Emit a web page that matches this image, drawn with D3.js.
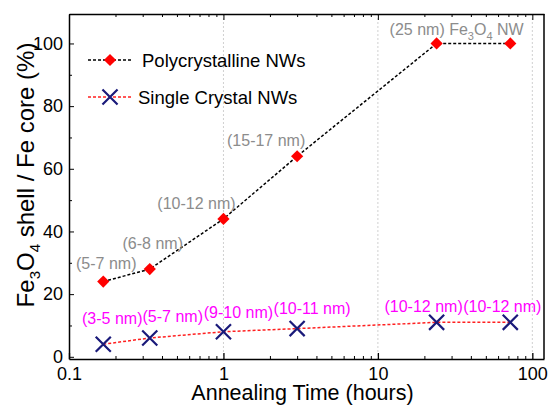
<!DOCTYPE html>
<html>
<head>
    <meta charset="utf-8" />
    <title>Fe3O4 shell / Fe core</title>
    <script src="https://cdn.jsdelivr.net/npm/d3@7"></script>
    <style>
        body { margin: 0; background: #fff; }
        text { font-family: "Liberation Sans", Arial, sans-serif; }
    </style>
</head>
<body>
<script>
    // annealing times (hours)
    var hours = [1 / 6, 1 / 3, 1, 3, 24, 72];
    var polyValues = [24, 28, 44, 64, 100, 100];
    var singleValues = [4, 6, 8, 9, 11, 11];
    var polyLabels = ["(5-7 nm)", "(6-8 nm)", "(10-12 nm)", "(15-17 nm)", "", ""];
    var singleLabels = ["(3-5 nm)", "(5-7 nm)", "(9-10 nm)", "(10-11 nm)", "(10-12 nm)", "(10-12 nm)"];
    var xTicks = [0.1, 1, 10, 100];
    var yTicks = [0, 20, 40, 60, 80, 100];

    var w = 548, h = 406;
    var pLeft = 69, pRight = 544, pTop = 14, pBottom = 359;

    var svg = d3.select("body").append("svg")
        .attr("width", w)
        .attr("height", h);

    var x = d3.scaleLog().domain([0.1, 119]).range([pLeft, pRight]);
    var y = d3.scaleLinear().domain([-0.7, 109.4]).range([pBottom, pTop]);

    // vertical grid at decades
    svg.selectAll("line.grid")
        .data([1, 10, 100])
        .enter().append("line")
        .attr("class", "grid")
        .attr("x1", function (d) { return x(d); })
        .attr("x2", function (d) { return x(d); })
        .attr("y1", pTop)
        .attr("y2", pBottom)
        .attr("stroke", "#d0d0d0")
        .attr("stroke-width", 1)
        .attr("stroke-dasharray", "2,2");

    // minor log ticks
    var minor = [];
    for (var dec = 0.1; dec < 100; dec *= 10) {
        for (var k = 2; k <= 9; k++) minor.push(dec * k);
    }

    // bottom axis
    var xAxis = d3.axisBottom(x).tickValues(xTicks).tickSizeInner(-6).tickSizeOuter(0)
        .tickFormat(function (d) { return d3.format("")(d); });
    var gx = svg.append("g").attr("transform", "translate(0," + pBottom + ")").call(xAxis);
    gx.selectAll("text").attr("font-size", "18px").attr("fill", "#000").attr("y", 8);
    gx.select(".domain").attr("stroke", "#000").attr("stroke-width", 1.5);
    gx.selectAll(".tick line").attr("stroke-width", 1.3);

    var gxm = svg.append("g").attr("transform", "translate(0," + pBottom + ")")
        .call(d3.axisBottom(x).tickValues(minor).tickSizeInner(-3).tickSizeOuter(0).tickFormat(""));
    gxm.select(".domain").remove();

    // top axis
    var gt = svg.append("g").attr("transform", "translate(0," + pTop + ")")
        .call(d3.axisTop(x).tickValues(xTicks).tickSizeInner(-6).tickSizeOuter(0).tickFormat(""));
    gt.select(".domain").attr("stroke-width", 1.5);
    var gtm = svg.append("g").attr("transform", "translate(0," + pTop + ")")
        .call(d3.axisTop(x).tickValues(minor).tickSizeInner(-3).tickSizeOuter(0).tickFormat(""));
    gtm.select(".domain").remove();

    // left axis
    var gy = svg.append("g").attr("transform", "translate(" + pLeft + ",0)")
        .call(d3.axisLeft(y).tickValues(yTicks).tickSizeInner(-5).tickSizeOuter(0));
    gy.selectAll("text").attr("font-size", "18px").attr("fill", "#000").attr("x", -6);
    gy.select(".domain").attr("stroke-width", 1.5);
    var gym = svg.append("g").attr("transform", "translate(" + pLeft + ",0)")
        .call(d3.axisLeft(y).tickValues([10, 30, 50, 70, 90]).tickSizeInner(-3).tickSizeOuter(0).tickFormat(""));
    gym.select(".domain").remove();

    // right frame
    svg.append("line")
        .attr("x1", pRight).attr("x2", pRight)
        .attr("y1", pTop).attr("y2", pBottom)
        .attr("stroke", "#000").attr("stroke-width", 1.5);

    // axis titles
    svg.append("text")
        .attr("x", (pLeft + pRight) / 2 - 4)
        .attr("y", 400)
        .attr("text-anchor", "middle")
        .attr("font-size", "21.5px")
        .text("Annealing Time (hours)");

    var yt = svg.append("text")
        .attr("transform", "translate(34," + 175 + ") rotate(-90)")
        .attr("text-anchor", "middle")
        .attr("font-size", "24px");
    yt.append("tspan").text("Fe");
    yt.append("tspan").attr("font-size", "15px").attr("dy", 6).text("3");
    yt.append("tspan").attr("dy", -6).text("O");
    yt.append("tspan").attr("font-size", "15px").attr("dy", 6).text("4");
    yt.append("tspan").attr("dy", -6).text(" shell / Fe core (%)");

    var line = d3.line()
        .x(function (d, i) { return x(hours[i]); })
        .y(function (d) { return y(d); });

    // series lines
    svg.append("path")
        .attr("d", line(polyValues))
        .attr("fill", "none")
        .attr("stroke", "#000")
        .attr("stroke-width", 1.5)
        .attr("stroke-dasharray", "3,2");

    svg.append("path")
        .attr("d", line(singleValues))
        .attr("fill", "none")
        .attr("stroke", "#ff2020")
        .attr("stroke-width", 1.5)
        .attr("stroke-dasharray", "3,2");

    var diamond = d3.symbol().type(d3.symbolDiamond2).size(95);

    svg.selectAll("path.poly")
        .data(polyValues)
        .enter().append("path")
        .attr("class", "poly")
        .attr("d", diamond)
        .attr("transform", function (d, i) { return "translate(" + x(hours[i]) + "," + y(d) + ")"; })
        .attr("fill", "#ff0000");

    var cross = d3.symbol().type(d3.symbolX).size(150);

    svg.selectAll("path.single")
        .data(singleValues)
        .enter().append("path")
        .attr("class", "single")
        .attr("d", cross)
        .attr("transform", function (d, i) { return "translate(" + x(hours[i]) + "," + y(d) + ")"; })
        .attr("fill", "none")
        .attr("stroke", "#1a1a7a")
        .attr("stroke-width", 2.2);

    // point labels
    var polyOffsets = [[3, -13], [3, -20], [-27, -10], [-31, -10], [0, 0], [0, 0]];
    svg.selectAll("text.plab")
        .data(polyLabels)
        .enter().append("text")
        .attr("class", "plab")
        .attr("x", function (d, i) { return x(hours[i]) + polyOffsets[i][0]; })
        .attr("y", function (d, i) { return y(polyValues[i]) + polyOffsets[i][1]; })
        .attr("text-anchor", "middle")
        .attr("font-size", "16px")
        .attr("fill", "#8c8c8c")
        .text(function (d) { return d; });

    var nw = svg.append("text")
        .attr("x", x(hours[4]) - 47)
        .attr("y", y(polyValues[4]) - 8)
        .attr("font-size", "16px")
        .attr("fill", "#8c8c8c");
    nw.append("tspan").text("(25 nm) Fe");
    nw.append("tspan").attr("font-size", "11px").attr("dy", 5).text("3");
    nw.append("tspan").attr("dy", -5).text("O");
    nw.append("tspan").attr("font-size", "11px").attr("dy", 5).text("4");
    nw.append("tspan").attr("dy", -5).text(" NW");

    var singleOffsets = [[9, -20], [23, -16], [15, -14], [15, -15], [-13, -10], [-8, -10]];
    svg.selectAll("text.slab")
        .data(singleLabels)
        .enter().append("text")
        .attr("class", "slab")
        .attr("x", function (d, i) { return x(hours[i]) + singleOffsets[i][0]; })
        .attr("y", function (d, i) { return y(singleValues[i]) + singleOffsets[i][1]; })
        .attr("text-anchor", "middle")
        .attr("font-size", "16px")
        .attr("fill", "#ff00ff")
        .text(function (d) { return d; });

    // legend
    var legend = svg.append("g");
    legend.append("line")
        .attr("x1", 88).attr("x2", 132).attr("y1", 60).attr("y2", 60)
        .attr("stroke", "#000").attr("stroke-width", 1.5).attr("stroke-dasharray", "3,2");
    legend.append("path").attr("d", diamond)
        .attr("transform", "translate(110,60)").attr("fill", "#ff0000");
    legend.append("text").attr("x", 142).attr("y", 66.5)
        .attr("font-size", "18.5px").text("Polycrystalline NWs");

    legend.append("line")
        .attr("x1", 88).attr("x2", 132).attr("y1", 97).attr("y2", 97)
        .attr("stroke", "#ff2020").attr("stroke-width", 1.5).attr("stroke-dasharray", "3,2");
    legend.append("path").attr("d", cross)
        .attr("transform", "translate(110,97)")
        .attr("fill", "none").attr("stroke", "#1a1a7a").attr("stroke-width", 2.2);
    legend.append("text").attr("x", 138).attr("y", 103.5)
        .attr("font-size", "18.5px").text("Single Crystal NWs");
</script>
</body>
</html>
